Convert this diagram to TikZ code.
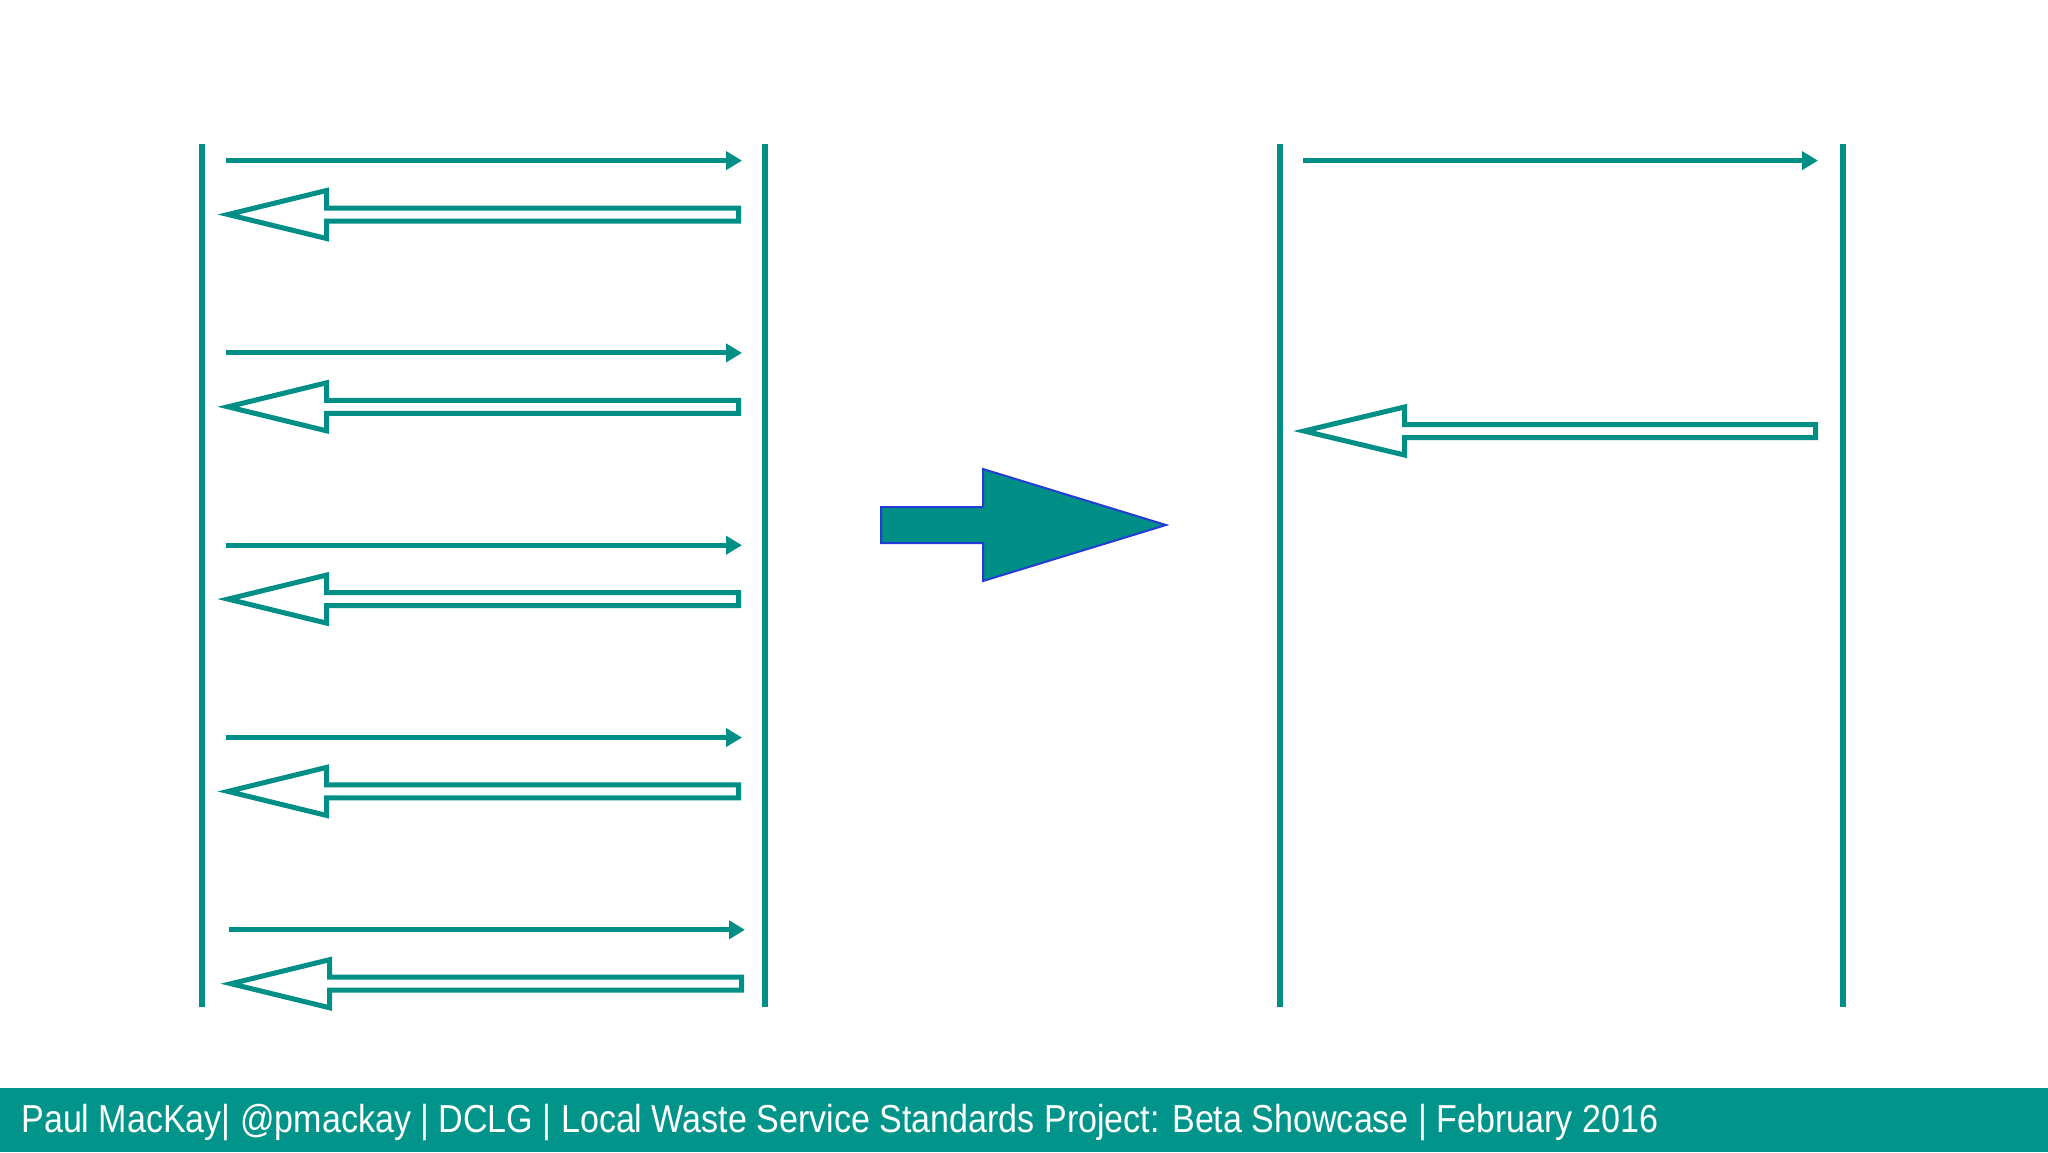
\documentclass[tikz,border=0pt]{standalone}
\usepackage{fontspec}
\setmainfont{Liberation Sans}
\newfontfamily\footfont[FakeStretch=0.873]{Liberation Sans}
\usetikzlibrary{arrows.meta}
\definecolor{tealline}{RGB}{0,143,135}
\definecolor{footerbg}{RGB}{0,148,139}
\definecolor{edgeblue}{RGB}{35,60,215}
\tikzset{
  lifeline/.style={draw=tealline, line width=2.8pt},
  msg/.style={draw=tealline, line width=2.5pt, -{Triangle[length=8pt,width=9pt]}},
  hollowmsg/.style={draw=tealline, line width=2.5pt, fill=white, line join=miter},
  bigarrow/.style={fill=tealline, draw=edgeblue, line width=1pt, line join=miter},
}
\begin{document}
\begin{tikzpicture}[x=0.5pt,y=-0.5pt]
\useasboundingbox (0,0) rectangle (2048,1152);
\fill[white] (0,0) rectangle (2048,1152);
% footer
\fill[footerbg] (0,1088) rectangle (2048,1152);
\node[anchor=west, text=white, font=\footfont\fontsize{19.5}{22}\selectfont, inner sep=0pt] (foot) at (21,1122)
  {Paul MacKay| @pmackay | DCLG | Local Waste Service Standards Project: Beta Showcase | February 2016};
% lifelines
\coordinate (L1t) at (202,144); \coordinate (L1b) at (202,1007);
\coordinate (L2t) at (765,144); \coordinate (L2b) at (765,1007);
\coordinate (R1t) at (1280,144); \coordinate (R1b) at (1280,1007);
\coordinate (R2t) at (1843,144); \coordinate (R2b) at (1843,1007);
\draw[lifeline] (L1t) -- (L1b);
\draw[lifeline] (L2t) -- (L2b);
\draw[lifeline] (R1t) -- (R1b);
\draw[lifeline] (R2t) -- (R2b);
% left panel messages
\foreach \i/\dx in {0/0,1/0,2/0,3/0,4/3}{
  \pgfmathsetmacro{\ya}{160.6+192.3*\i}
  \pgfmathsetmacro{\yb}{214.5+192.3*\i}
  \coordinate (ms\i) at ({226+\dx},\ya);
  \coordinate (me\i) at ({742+\dx},\ya);
  \draw[msg] (ms\i) -- (me\i);
  \coordinate (ht\i) at ({228+\dx},\yb);
  \draw[hollowmsg] (ht\i) -- ++(98.5,-24) -- ++(0,17.5) -- ++(412,0) -- ++(0,13) -- ++(-412,0) -- ++(0,17.5) -- cycle;
}
% right panel messages
\coordinate (rs) at (1303,160.6);
\coordinate (re) at (1818,160.6);
\draw[msg] (rs) -- (re);
\coordinate (rht) at (1304,431);
\draw[hollowmsg] (rht) -- ++(100.5,-24) -- ++(0,17.5) -- ++(411,0) -- ++(0,13) -- ++(-411,0) -- ++(0,17.5) -- cycle;
% middle big arrow
\coordinate (bt) at (1166,525);
\draw[bigarrow] (881,507) -- (983,507) -- (983,469) -- (bt) -- (983,581) -- (983,543) -- (881,543) -- cycle;
\end{tikzpicture}
\end{document}
